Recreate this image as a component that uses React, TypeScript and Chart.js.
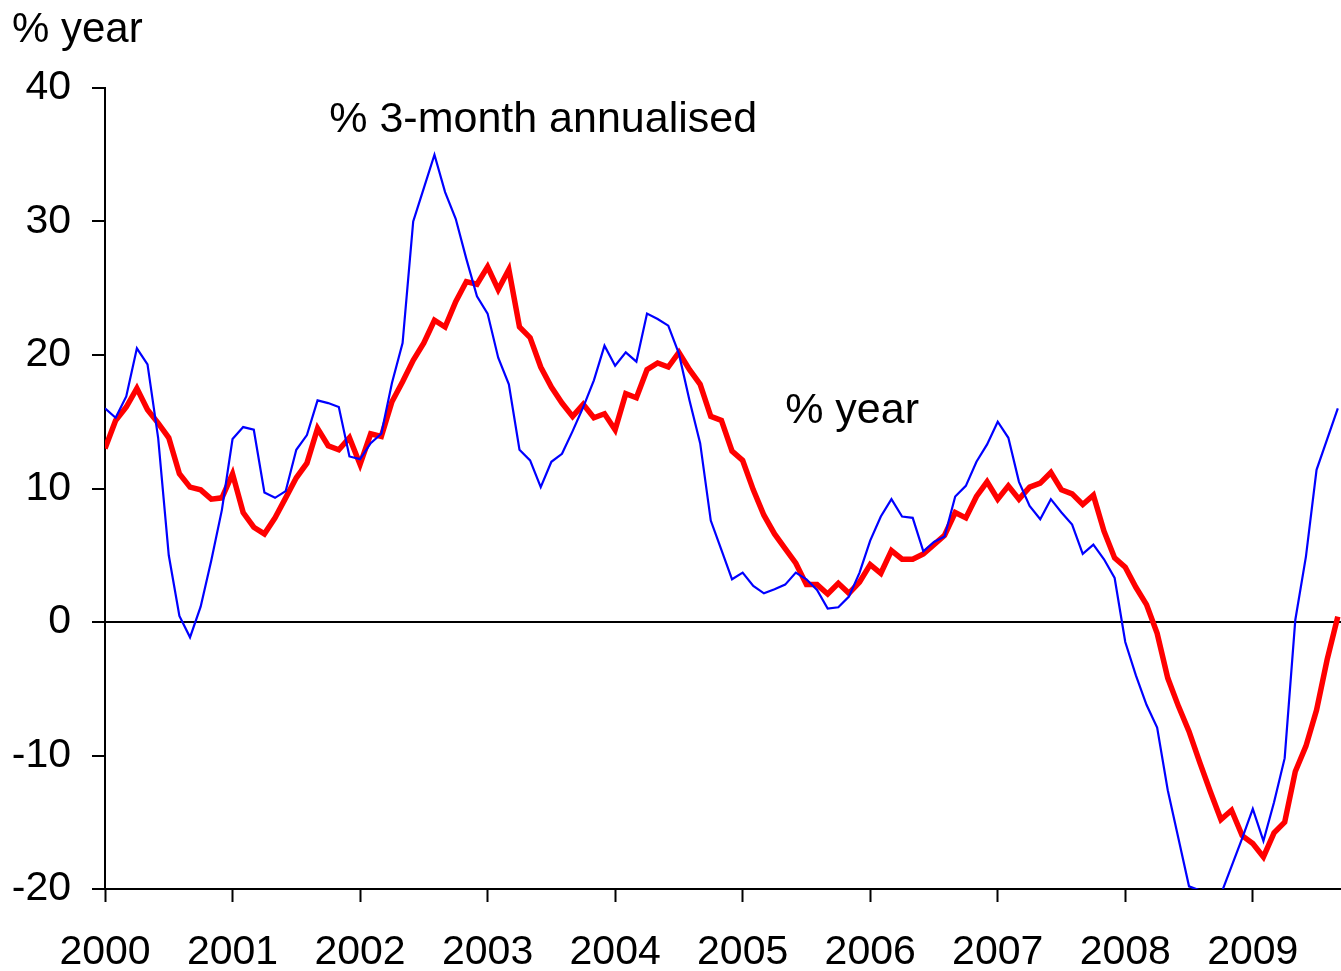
import React, { useEffect, useRef } from "react";
import { Chart, registerables } from "chart.js";

Chart.register(...registerables);

const startYear = 2000;
const yearTicks = [2000, 2001, 2002, 2003, 2004, 2005, 2006, 2007, 2008, 2009];
const yTicks = [-20, -10, 0, 10, 20, 30, 40];

// % year (thick red)
const yearOnYear = [
  13.0, 15.1, 16.1, 17.5, 15.9, 14.9, 13.8, 11.1, 10.1, 9.9, 9.2, 9.3,
  11.1, 8.2, 7.1, 6.6, 7.8, 9.3, 10.8, 11.9, 14.5, 13.2, 12.9, 13.8,
  11.8, 14.1, 13.9, 16.5, 18.0, 19.6, 20.9, 22.6, 22.1, 24.0, 25.5, 25.3,
  26.6, 24.9, 26.4, 22.1, 21.3, 19.1, 17.6, 16.4, 15.4, 16.3, 15.3, 15.6,
  14.4, 17.1, 16.8, 18.9, 19.4, 19.1, 20.2, 18.9, 17.8, 15.4, 15.1, 12.8,
  12.1, 9.9, 8.0, 6.6, 5.5, 4.4, 2.8, 2.8, 2.1, 2.9, 2.15, 3.0,
  4.3, 3.65, 5.35, 4.7, 4.7, 5.1, 5.8, 6.5, 8.2, 7.8, 9.4, 10.5,
  9.2, 10.2, 9.2, 10.1, 10.4, 11.2, 9.9, 9.6, 8.8, 9.5, 6.8, 4.8,
  4.1, 2.6, 1.3, -0.85, -4.2, -6.3, -8.2, -10.5, -12.7, -14.8, -14.1, -16.0,
  -16.6, -17.6, -15.8, -15.0, -11.2, -9.3, -6.6, -2.8, 0.4,
];

// % 3-month annualised (thin blue)
const threeMonthAnnualised = [
  16.0, 15.3, 16.9, 20.5, 19.3, 13.8, 5.0, 0.45, -1.15, 1.15, 4.6, 8.4,
  13.7, 14.6, 14.4, 9.7, 9.3, 9.8, 12.9, 14.0, 16.6, 16.4, 16.1, 12.4,
  12.2, 13.4, 14.1, 17.9, 20.9, 30.0, 32.5, 35.0, 32.2, 30.2, 27.2, 24.4,
  23.1, 19.8, 17.8, 12.9, 12.1, 10.1, 12.0, 12.6, 14.3, 16.1, 18.1, 20.7,
  19.2, 20.2, 19.5, 23.1, 22.7, 22.2, 20.1, 16.6, 13.4, 7.6, 5.4, 3.2,
  3.7, 2.7, 2.15, 2.45, 2.8, 3.7, 3.2, 2.4, 1.0, 1.1, 1.9, 3.7,
  6.1, 7.9, 9.2, 7.9, 7.8, 5.3, 6.0, 6.4, 9.4, 10.2, 12.0, 13.3,
  15.0, 13.8, 10.5, 8.7, 7.7, 9.2, 8.2, 7.3, 5.1, 5.8, 4.7, 3.3,
  -1.5, -4.0, -6.2, -7.9, -12.6, -16.2, -19.8, -20.1, -21.0, -20.4, -18.3, -16.2,
  -14.0, -16.4, -13.5, -10.2, 0.15, 4.9, 11.4, 13.7, 16.0,
];

const annotations = [
  { text: "% 3-month annualised", month: 21.1, value: 36.7 },
  { text: "% year", month: 64.0, value: 14.9 },
];

const axisTitle = "% year";
const FONT = "'Liberation Sans', Arial, sans-serif";

export default function App() {
  const ref = useRef<HTMLCanvasElement | null>(null);

  useEffect(() => {
    if (!ref.current) return;
    const toPoints = (arr: number[]) => arr.map((v, i) => ({ x: i, y: v }));

    const textPlugin = {
      id: "texts",
      afterDatasetsDraw(chart: any) {
        const ctx = chart.ctx;
        const xs = chart.scales.x;
        const ys = chart.scales.y;
        ctx.save();
        ctx.fillStyle = "#000";
        ctx.textAlign = "left";
        ctx.textBaseline = "alphabetic";
        ctx.font = `43px ${FONT}`;
        annotations.forEach((a) => {
          ctx.fillText(a.text, xs.getPixelForValue(a.month), ys.getPixelForValue(a.value));
        });
        ctx.font = `42px ${FONT}`;
        ctx.fillText(axisTitle, 12, 42);
        ctx.restore();
      },
    };

    const chart = new Chart(ref.current, {
      type: "line",
      data: {
        datasets: [
          {
            label: "% 3-month annualised",
            data: toPoints(threeMonthAnnualised),
            borderColor: "#0000FF",
            borderWidth: 2.2,
            pointRadius: 0,
            tension: 0,
            clip: 0,
          },
          {
            label: "% year",
            data: toPoints(yearOnYear),
            borderColor: "#FF0000",
            borderWidth: 5.5,
            pointRadius: 0,
            tension: 0,
            clip: 0,
          },
        ],
      },
      options: {
        animation: false,
        responsive: false,
        devicePixelRatio: 1,
        layout: { padding: { top: 88, left: 0, right: 0, bottom: 0 } },
        plugins: {
          legend: { display: false },
          tooltip: { enabled: false },
          title: { display: false },
        },
        scales: {
          x: {
            type: "linear",
            min: 0,
            max: threeMonthAnnualised.length - 1 + 0.3,
            afterFit(scale: any) {
              scale.height = 82;
            },
            afterBuildTicks(scale: any) {
              scale.ticks = yearTicks.map((y) => ({ value: (y - startYear) * 12 }));
            },
            grid: {
              display: true,
              drawOnChartArea: false,
              drawTicks: true,
              tickLength: 13,
              tickColor: "#000",
              tickWidth: 2,
            },
            border: { display: true, color: "#000", width: 2 },
            ticks: {
              autoSkip: false,
              maxRotation: 0,
              padding: 26,
              color: "#000",
              font: { size: 41, family: FONT },
              callback: (v: any) => String(startYear + Math.round(Number(v) / 12)),
            },
          },
          y: {
            type: "linear",
            min: -20,
            max: 40,
            afterFit(scale: any) {
              scale.width = 105;
            },
            afterBuildTicks(scale: any) {
              scale.ticks = yTicks.map((v) => ({ value: v }));
            },
            grid: {
              display: true,
              drawOnChartArea: true,
              drawTicks: true,
              tickLength: 13,
              tickColor: "#000",
              tickWidth: 2,
              lineWidth: 2,
              color: (c: any) => (c.tick && c.tick.value === 0 ? "#000" : "rgba(0,0,0,0)"),
            },
            border: { display: true, color: "#000", width: 2 },
            ticks: {
              padding: 21,
              color: "#000",
              font: { size: 41, family: FONT },
              callback: (v: any) => String(v),
            },
          },
        },
      },
      plugins: [textPlugin],
    });
    return () => chart.destroy();
  }, []);

  return (
    <div style={{ position: "absolute", left: 0, top: 0, width: 1341, height: 971, background: "#fff" }}>
      <canvas ref={ref} width={1341} height={971} style={{ display: "block" }} />
    </div>
  );
}
